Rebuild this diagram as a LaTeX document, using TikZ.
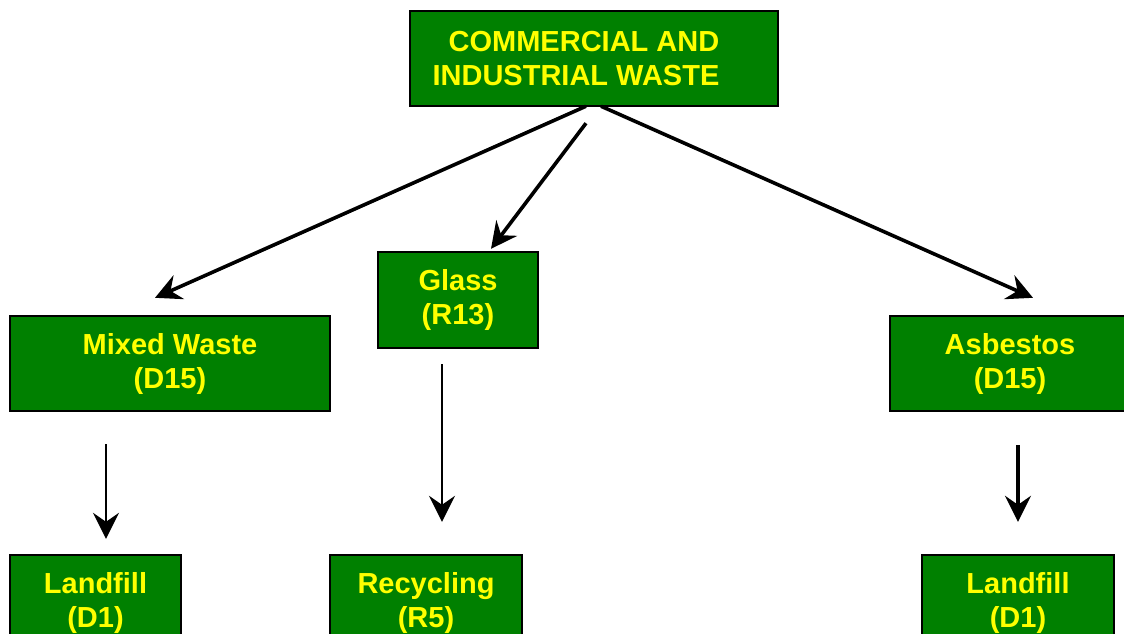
\documentclass[tikz,border=0pt]{standalone}
\usepackage{fontspec}
\setmainfont{Liberation Sans}
\usetikzlibrary{arrows.meta}
\definecolor{wastegreen}{RGB}{0,128,0}
\definecolor{wasteyellow}{RGB}{255,255,0}
\begin{document}
\begin{tikzpicture}[x=0.5pt,y=-0.5pt,
    box/.style={draw,line width=1.2pt,fill=wastegreen,text=wasteyellow,inner sep=0pt,
        font=\bfseries\fontsize{14.5}{17}\selectfont,align=center},
    flow/.style={line width=1.8pt,-{Stealth[length=13pt,width=13pt,inset=4.5pt]}},
    thinflow/.style={line width=1pt,-{Stealth[length=13pt,width=13pt,inset=4.5pt]}}]
            \useasboundingbox (0,0) rectangle (1124,633);
            \clip (0,0) rectangle (1124,633);
            \node [box,minimum width=184pt,minimum height=47.5pt] (cw) at (594,58.5) {COMMERCIAL AND\hspace*{10pt}\\INDUSTRIAL WASTE\hspace*{18pt}};
            \node [box,minimum width=160pt,minimum height=47.5pt] (mixed) at (170,363.5) {Mixed Waste\\(D15)};
            \node [box,minimum width=80pt,minimum height=48pt] (glass) at (458,300) {Glass\\(R13)};
            \node [box,minimum width=120pt,minimum height=47.5pt] (asbestos) at (1010,363.5) {Asbestos\\(D15)};
            \node [box,minimum width=85.5pt,minimum height=47.5pt] (landfillA) at (95.5,602.5) {Landfill\\(D1)};
            \node [box,minimum width=96pt,minimum height=47.5pt] (recycling) at (426,602.5) {Recycling\\(R5)};
            \node [box,minimum width=96pt,minimum height=47.5pt] (landfillB) at (1018,602.5) {Landfill\\(D1)};
            \draw [flow]([xshift=-4pt,yshift=0.5pt]cw.south)--([xshift=-7.5pt,yshift=8.5pt]mixed.north);
            \draw [flow]([xshift=-4pt,yshift=-8pt]cw.south)--([xshift=16.5pt,yshift=1pt]glass.north);
            \draw [flow]([xshift=3.5pt,yshift=0.5pt]cw.south)--([xshift=11.5pt,yshift=8.5pt]asbestos.north);
            \draw [thinflow]([xshift=-32pt,yshift=-16pt]mixed.south)--([xshift=5.25pt,yshift=7.5pt]landfillA.north);
            \draw [thinflow]([xshift=-8pt,yshift=-7.5pt]glass.south)--([xshift=8pt,yshift=16pt]recycling.north);
            \draw [thinflow,line width=1.6pt]([xshift=4pt,yshift=-16.5pt]asbestos.south)--([yshift=16pt]landfillB.north);
        \end{tikzpicture}
\end{document}
